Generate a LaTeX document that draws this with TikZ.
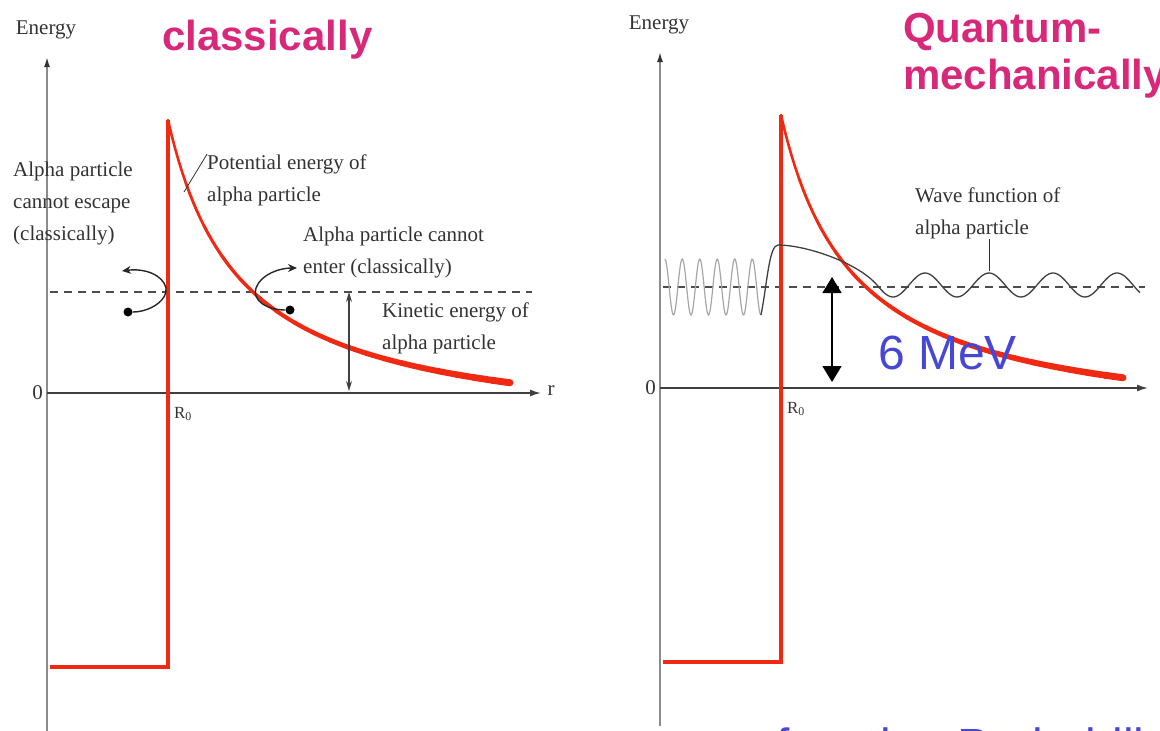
\documentclass[tikz,border=0pt]{standalone}
\usepackage{fontspec}
\setmainfont{Liberation Serif}
\newfontfamily\slidefont{Liberation Sans}
\usepackage{tikz}
\usetikzlibrary{arrows.meta,calc}
\definecolor{wellred}{HTML}{F02A12}
\definecolor{titlemag}{HTML}{D8287A}
\definecolor{mevblue}{HTML}{4747D6}
\definecolor{labgray}{HTML}{333333}
\definecolor{axgray}{HTML}{8C8C8C}
\tikzset{
  lab/.style   ={font=\fontsize{21}{32}\selectfont, text=labgray, inner sep=0pt, align=left},
  eaxis/.style ={draw=axgray, line width=1.6pt, -{Latex[length=10pt,width=6pt,color=black!80]}},
  raxis/.style ={draw=black!75, line width=1.5pt, -{Latex[length=11pt,width=7pt]}},
  well/.style  ={draw=wellred, line width=4pt, line join=miter},
  kin/.style   ={draw=black!70, line width=1.3pt, dash pattern=on 8pt off 6pt},
  % bounced-back alpha particle at the barrier
  bounce/.style={draw=black!85, line width=1.4pt, -{Stealth[length=9pt,width=8pt]}},
  pdot/.style  ={circle, fill=black, minimum size=9pt, inner sep=0pt},
  kinarrow/.style={draw=black!75, line width=1.1pt,
                 {Stealth[length=10pt,width=6pt]}-{Stealth[length=10pt,width=6pt]}},
  mevarrow/.style={draw=black, line width=1.5pt,
                 {Triangle[length=16pt,width=19pt]}-{Triangle[length=16pt,width=19pt]}},
  wavein/.style ={draw=gray!70, line width=1.2pt},
  waveout/.style={draw=black!75, line width=1.3pt},
  title/.style ={font=\slidefont\bfseries\fontsize{42}{48}\selectfont, text=titlemag, inner sep=0pt},
  big/.style   ={font=\slidefont\fontsize{48}{56}\selectfont, text=mevblue, inner sep=0pt},
}
% #1 name prefix, #2/#3 shift, #4 end of the r axis
\newcommand{\energypanel}[4]{%
  \begin{scope}[shift={(#2,#3)}]
    \coordinate (#1ebot) at (47,731);
    \coordinate (#1etop) at (47,57);
    \coordinate (#1rbeg) at (47,393);
    \coordinate (#1rend) at (#4,393);
    \draw[eaxis] (#1ebot) -- (#1etop);
    \draw[raxis] (#1rbeg) -- (#1rend);
    \node[lab] (#1energy) at (46,30) {Energy};
    \node[lab,anchor=east] (#1zero) at (43,393) {0};
    \node[lab,font=\fontsize{17}{20}\selectfont] (#1Rnull) at (183,414) {R\textsubscript{0}};
    \draw[kin] (50,292) -- (532,292);
    \draw[well] (50,667) -- (168,667) -- (168,120);
    \foreach \xa in {168,186,...,492} {
      \pgfmathsetmacro\lw{2.6+4.6*(\xa-168)/344}
      \draw[wellred, line width=\lw pt, line cap=round]
        plot[domain=\xa:\xa+18, samples=6] (\x,{438.3-230.13/((\x-95.7)/100)});}
  \end{scope}}

\begin{document}
\begin{tikzpicture}[x=1pt,y=-1pt]
\useasboundingbox (0,0) rectangle (1160,731);

\energypanel{L}{0}{0}{541}
\energypanel{R}{613}{-5}{535}

% classical picture
\node[title,anchor=base west] (tclass) at (162,50) {classically};
\node[lab] (rlab) at (551,391) {r};
\node[lab,anchor=west] (esclab) at (13,203) {Alpha particle\\cannot escape\\(classically)};
\node[lab,anchor=west] (potlab) at (207,180) {Potential energy of\\alpha particle};
\node[lab,anchor=west] (entlab) at (303,252) {Alpha particle cannot\\enter (classically)};
\node[lab,anchor=west] (kinlab) at (382,328) {Kinetic energy of\\alpha particle};
\coordinate (potpt) at (184,192);
\draw[labgray, line width=0.8pt] (potpt) -- (potlab.north west);

\node[pdot] (escdot) at (128,312) {};
\coordinate (escto) at (122,271);
\draw[bounce] (escdot.east) .. controls (150,312) and (168,300) .. (166,288)
              .. controls (163,275) and (145,268) .. (escto);
\node[pdot] (entdot) at (290,310) {};
\coordinate (entto) at (297,268);
\draw[bounce] (entdot.west) .. controls (266,310) and (252,300) .. (256,288)
              .. controls (261,274) and (280,268) .. (entto);

\coordinate (kintop) at (349,292);
\coordinate (kinbot) at (349,391);
\draw[kinarrow] (kintop) -- (kinbot);

% quantum picture
\node[title,anchor=base west] (tquant) at (903,42) {Quantum-};
\node[title,anchor=base west] (tmech) at (903,89) {mechanically};
\node[lab,anchor=west] (wavelab) at (915,213) {Wave function of\\alpha particle};

\draw[wavein] plot[domain=665:761, samples=140] (\x,{287+28*cos((\x-761)/17.5*360)});
\draw[waveout] (761,315) .. controls (767,285) and (769,245) .. (778,245)
               .. controls (805,245) and (857,262) .. (877,285)
               -- plot[domain=877:1140, samples=120] (\x,{285-12*cos((\x-925)/64*360)});
\coordinate (wavepk) at (989,271);
\draw[labgray, line width=0.8pt] (wavepk) -- (wavepk |- wavelab.south);

\coordinate (mevtop) at (832,277);
\coordinate (mevbot) at (832,382);
\draw[mevarrow] (mevtop) -- (mevbot);
\node[big,anchor=west] (mev) at (878,353) {6 MeV};
\node[big,anchor=base west] (probtxt) at (776,762) {function Probability};
\end{tikzpicture}
\end{document}
